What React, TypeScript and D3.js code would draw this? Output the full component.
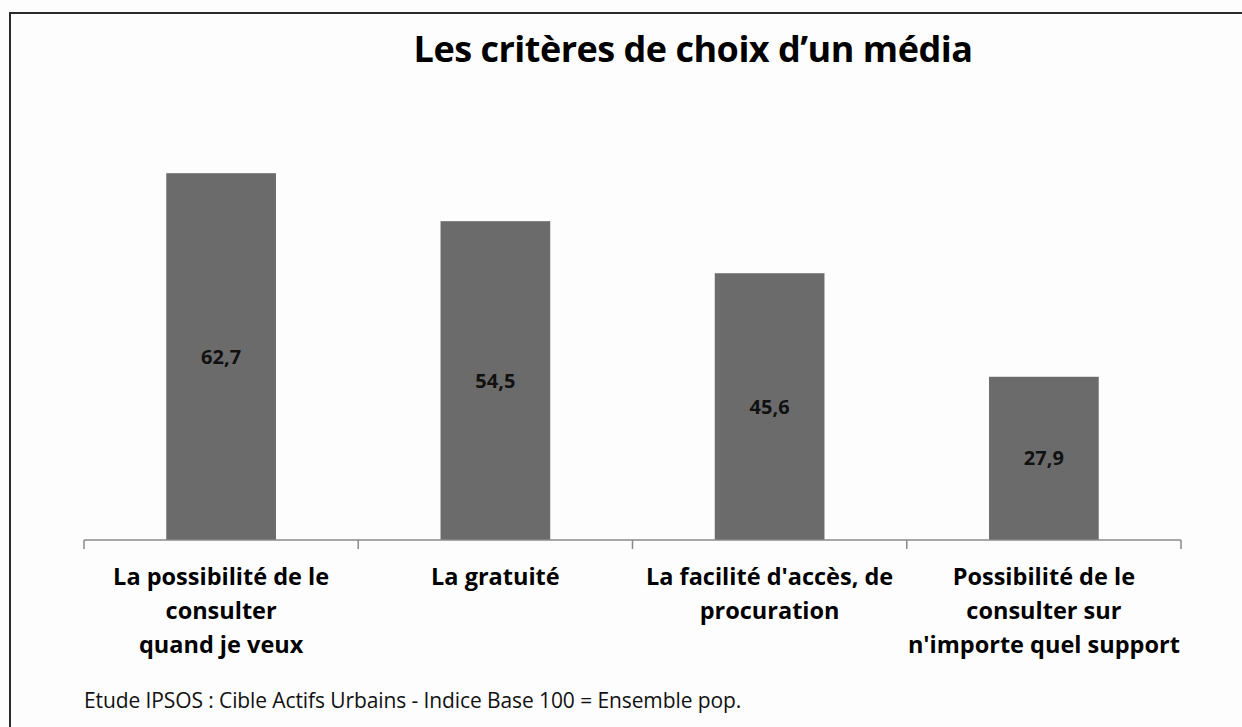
import React from "react";
import * as d3 from "d3";

const categories: string[][] = [
  ["La possibilité de le", "consulter", "quand je veux"],
  ["La gratuité"],
  ["La facilité d'accès, de", "procuration"],
  ["Possibilité de le", "consulter sur", "n'importe quel support"],
];
const values: number[] = [62.7, 54.5, 45.6, 27.9];
const valueLabels: string[] = ["62,7", "54,5", "45,6", "27,9"];
const title = "Les critères de choix d\u2019un média";
const footnote = "Etude IPSOS : Cible Actifs Urbains - Indice Base 100 = Ensemble pop.";

const W = 1242;
const H = 727;
const FONT = "'Open Sans', Lato, sans-serif";

export default function App() {
  const ids = categories.map((_, i) => String(i));
  const x = d3.scaleBand<string>().domain(ids).range([84, 1181]).paddingInner(0).paddingOuter(0);
  const y = d3.scaleLinear().domain([0, 70]).range([540, 130.5]);
  const bw = x.bandwidth() * 0.4;
  const ticks = [...ids.map((id) => x(id)!), 1181];

  return (
    <svg
      width={W}
      height={H}
      style={{ position: "absolute", left: 0, top: 0, background: "#fdfdfd" }}
      fontFamily={FONT}
    >
      <rect x={10} y={13} width={W + 20} height={H + 20} fill="#fdfdfd" stroke="#2a2a2a" strokeWidth={2} />
      <text x={693} y={62} textAnchor="middle" fontSize={36} fontWeight={700} fill="#000" letterSpacing={-0.5}>
        {title}
      </text>
      {values.map((v, i) => {
        const cx = x(ids[i])! + x.bandwidth() / 2;
        return (
          <g key={i}>
            <rect x={cx - bw / 2} y={y(v)} width={bw} height={y(0) - y(v)} fill="#6b6b6b" />
            <text
              x={cx}
              y={(y(v) + y(0)) / 2 + 7}
              textAnchor="middle"
              fontSize={20}
              fontWeight={700}
              fill="#111"
            >
              {valueLabels[i]}
            </text>
            {categories[i].map((line, j) => (
              <text
                key={j}
                x={cx}
                y={585 + j * 34}
                textAnchor="middle"
                fontSize={23.5}
                fontWeight={700}
                fill="#000"
              >
                {line}
              </text>
            ))}
          </g>
        );
      })}
      <line x1={84} x2={1181} y1={y(0)} y2={y(0)} stroke="#8a8a8a" strokeWidth={1.5} />
      {ticks.map((t, i) => (
        <line key={i} x1={t} x2={t} y1={y(0)} y2={y(0) + 9} stroke="#8a8a8a" strokeWidth={1.5} />
      ))}
      <text x={84} y={708} fontSize={21} fill="#111" letterSpacing={-0.1}>
        {footnote}
      </text>
    </svg>
  );
}
